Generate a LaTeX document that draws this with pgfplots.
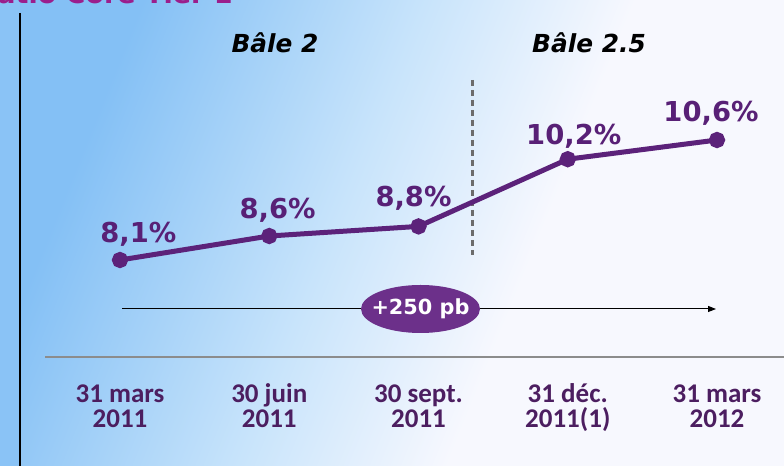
\documentclass[border=0pt]{standalone}
\usepackage{pgfplots}
\pgfplotsset{compat=1.18}
\usepackage{pgfplotstable}
\usepackage{fontspec}
\setmainfont{DejaVu Sans}
\newfontfamily\carlito{Carlito}
\usetikzlibrary{arrows.meta}
\definecolor{bgblue}{RGB}{132,192,245}
\definecolor{bgmid}{RGB}{200,228,251}
\definecolor{bgwhite}{RGB}{247,248,254}
\definecolor{linec}{RGB}{92,34,122}
\definecolor{labc}{RGB}{88,32,118}
\definecolor{datec}{RGB}{76,30,96}
\definecolor{ellc}{RGB}{108,48,138}
\definecolor{titlec}{RGB}{155,30,140}
\pgfdeclarehorizontalshading{bgshade}{100bp}{color(0bp)=(bgblue); color(27bp)=(bgblue); color(46bp)=(bgmid); color(60bp)=(bgwhite); color(100bp)=(bgwhite)}
\pgfplotstableread{
x y lab dx dy
0 8.1 {8,1\%} 9.2 9
1 8.6 {8,6\%} 4.2 9
2 8.8 {8,8\%} -2.5 10
3 10.2 {10,2\%} 3 7.5
4 10.6 {10,6\%} -3 9.5
}\ratio
\begin{document}
\begin{tikzpicture}
\useasboundingbox (0,0) rectangle (392pt,233pt);
\clip (0,0) rectangle (392pt,233pt);
\shade[shading=bgshade, shading angle=-22] (0,0) rectangle (392pt,233pt);
\begin{scope}[x=0.5pt,y=-0.5pt,shift={(0,233pt)}]
\fill[bgblue!95!white] (0,0) rectangle (20,466);
\draw[black, line width=1pt] (20,13) -- (20,466);
\node[anchor=base east, text=titlec, font=\fontsize{13.5}{16}\selectfont\bfseries, inner sep=0] at (233,4) {Ratio Core Tier 1};
\node[anchor=base, font=\fontsize{12.4}{14}\selectfont\bfseries\itshape, inner sep=0] at (275,53) {Bâle 2};
\node[anchor=base, font=\fontsize{12.4}{14}\selectfont\bfseries\itshape, inner sep=0] at (589,53) {Bâle 2.5};
\draw[gray!85!black, line width=1.5pt, dash pattern=on 3pt off 2pt] (472,80) -- (472,255);
\draw[gray!90, line width=1pt] (45,357) -- (784,357);
\draw[black, line width=0.5pt, -{Triangle[length=4pt,width=3pt]}] (122,309) -- (716,309);
\fill[ellc] (420.5,309) ellipse [x radius=59.5, y radius=24];
\node[text=white, font=\fontsize{10.4}{12}\selectfont\bfseries, inner sep=0] at (420.5,309) {+250 pb};
\end{scope}
\begin{axis}[at={(0,0)}, anchor=south west, scale only axis, width=392pt, height=233pt,
  xmin=-0.80402, xmax=4.44891, ymin=3.80833, ymax=13.51667,
  axis lines=none, clip=false]
\addplot[linec, line width=2.5pt, mark=*, mark size=2.8pt, mark options={fill=linec, draw=linec},
  nodes near coords, point meta=explicit symbolic,
  visualization depends on={\thisrow{dx} \as \dx},
  visualization depends on={\thisrow{dy} \as \dy},
  every node near coord/.append style={anchor=base, inner sep=0, text=labc,
    font=\fontsize{13.7}{16}\selectfont\bfseries, xshift=\dx pt, yshift=\dy pt}]
  table[x=x, y=y, meta=lab] {\ratio};
\addplot[draw=none, mark=none, nodes near coords, point meta=explicit symbolic,
  every node near coord/.append style={anchor=base, inner sep=0, text=datec,
    font=\carlito\fontsize{13.5}{12.5}\selectfont\bfseries}]
  coordinates {(0,5.121) [31 mars] (1,5.121) [30 juin] (2,5.121) [30 sept.]
   (3,5.121) [31 déc.] (4,5.121) [31 mars]};
\addplot[draw=none, mark=none, nodes near coords, point meta=explicit symbolic,
  every node near coord/.append style={anchor=base, inner sep=0, text=datec,
    font=\carlito\fontsize{13.5}{12.5}\selectfont\bfseries}]
  coordinates {(0,4.6) [2011] (1,4.6) [2011] (2,4.6) [2011]
   (3,4.6) [2011(1)] (4,4.6) [2012]};
\end{axis}
\end{tikzpicture}
\end{document}
